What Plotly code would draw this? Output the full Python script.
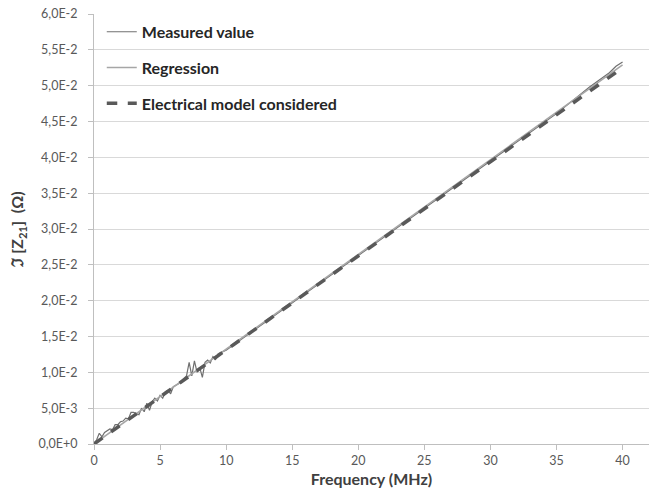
import plotly.graph_objects as go

# Measured value (frequency in MHz, Im[Z21] in ohm)
meas_f = [0.0, 0.2, 0.4, 0.6, 0.8, 1.0, 1.2, 1.4, 1.6, 1.8, 2.0, 2.2, 2.4, 2.6, 2.8, 3.0,
          3.2, 3.4, 3.6, 3.8, 4.0, 4.2, 4.4, 4.6, 4.8, 5.0, 5.2, 5.4, 5.6, 5.8, 6.0, 6.2,
          6.4, 6.6, 6.8, 7.0, 7.2, 7.4, 7.6, 7.8, 8.0, 8.2, 8.4, 8.6, 8.8, 9.0, 9.2, 9.4,
          10.0, 12.5, 15.0, 17.5, 20.0, 22.5, 25.0, 27.5, 30.0, 32.5, 35.0, 37.5, 38.5,
          39.0, 39.5, 40.0]
meas_v = [0.0000, 0.0006, 0.0015, 0.0010, 0.0016, 0.0018, 0.0021, 0.0020, 0.0027, 0.0027,
          0.0031, 0.0032, 0.0036, 0.0035, 0.0044, 0.0044, 0.0042, 0.0041, 0.0050, 0.0045,
          0.0057, 0.0047, 0.0059, 0.0064, 0.0060, 0.0068, 0.0064, 0.0073, 0.0075, 0.0070,
          0.0080, 0.0082, 0.0084, 0.0088, 0.0091, 0.0095, 0.0114, 0.0095, 0.0116, 0.0100,
          0.0107, 0.0093, 0.0114, 0.0117, 0.0113, 0.0122, 0.0118, 0.0126,
          0.0131, 0.0164, 0.0197, 0.0229, 0.0262, 0.0296, 0.0328, 0.0361, 0.0394, 0.0427,
          0.0461, 0.0498, 0.0512, 0.0518, 0.0527, 0.0533]

# Regression line
reg_f = [0.0, 40.0]
reg_v = [0.0000, 0.0529]

# Electrical model considered
model_f = [0.0, 40.0]
model_v = [0.0000, 0.0525]

# Axis ticks
y_tickvals = [0.0, 0.005, 0.010, 0.015, 0.020, 0.025, 0.030, 0.035, 0.040, 0.045, 0.050, 0.055, 0.060]
y_ticktext = ["0,0E+0", "5,0E-3", "1,0E-2", "1,5E-2", "2,0E-2", "2,5E-2", "3,0E-2",
              "3,5E-2", "4,0E-2", "4,5E-2", "5,0E-2", "5,5E-2", "6,0E-2"]
x_tickvals = [0, 5, 10, 15, 20, 25, 30, 35, 40]

FONT = "Lato, 'Open Sans', sans-serif"

fig = go.Figure()
fig.add_trace(go.Scatter(x=meas_f, y=meas_v, mode="lines", name="Measured value",
                         line=dict(color="#707070", width=1.2), legendgroup="a"))
fig.add_trace(go.Scatter(x=reg_f, y=reg_v, mode="lines", name="Regression",
                         line=dict(color="#a6a6a6", width=1.6), legendgroup="b"))
fig.add_trace(go.Scatter(x=model_f, y=model_v, mode="lines", name="Electrical model considered",
                         line=dict(color="#595959", width=3.5, dash="dash"), legendgroup="c"))

fig.update_layout(
    width=653, height=495,
    margin=dict(l=94, r=4, t=14, b=51),
    paper_bgcolor="white", plot_bgcolor="white",
    font=dict(family=FONT, color="#595959", size=12.5),
    showlegend=True,
    legend=dict(x=0.014, y=0.998, xanchor="left", yanchor="top",
                bgcolor="rgba(0,0,0,0)", tracegroupgap=12,
                font=dict(family=FONT, size=16, color="#262626", weight="bold"),
                itemwidth=30),
    xaxis=dict(range=[0, 42], tickvals=x_tickvals, showgrid=False,
               showline=True, linecolor="#bfbfbf", linewidth=1,
               ticks="outside", ticklen=5, tickcolor="#bfbfbf",
               zeroline=False,
               title=dict(text="Frequency (MHz)", standoff=6,
                          font=dict(family=FONT, size=16, color="#404040", weight="bold"))),
    yaxis=dict(range=[0, 0.06], tickvals=y_tickvals, ticktext=y_ticktext,
               showgrid=True, gridcolor="#d9d9d9", gridwidth=1,
               showline=True, linecolor="#bfbfbf", linewidth=1,
               ticks="outside", ticklen=5, tickcolor="#bfbfbf",
               ticklabelstandoff=8,
               zeroline=False,
               title=dict(text="ℑ [Z<sub>21</sub>]  (Ω)", standoff=10,
                          font=dict(family=FONT, size=16, color="#404040", weight="bold"))),
)

fig.write_html("out.html")
